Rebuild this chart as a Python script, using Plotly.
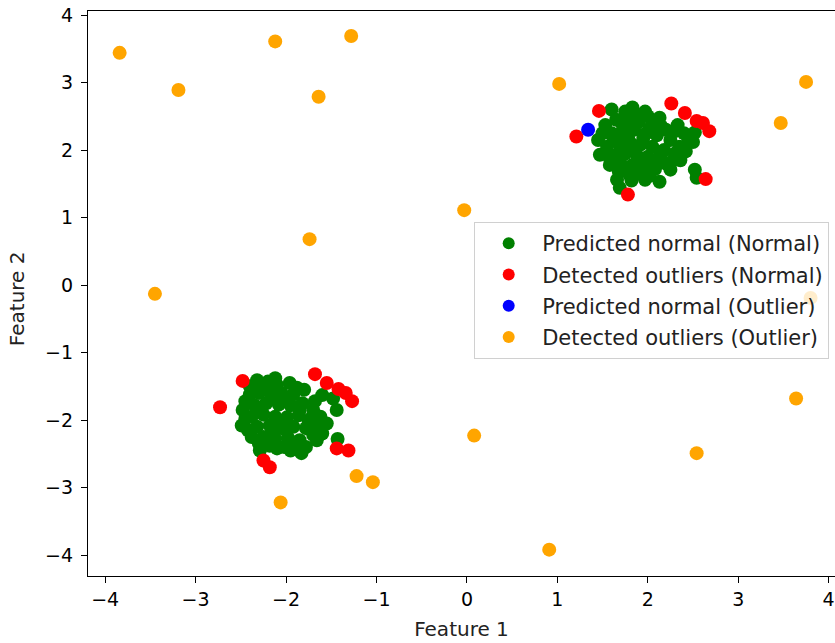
import plotly.graph_objects as go

# Predicted normal (Normal) - green
green_x = [1.60, 1.75, 1.83, 1.97, 2.13, 2.33, 2.52, 2.50, 2.52, 2.54, 2.36, 2.25, 2.13, 1.97, 1.66, 1.69, 1.80, 1.45, 1.47, 1.53, 1.58,
           1.65, 1.78, 1.90, 2.05, 2.20, 1.60, 1.72, 1.85, 1.98, 2.10, 2.25, 2.35, 1.55, 1.68, 1.80, 1.92, 2.05, 2.18, 2.30,
           1.62, 1.75, 1.88, 2.00, 2.12, 1.70, 1.83, 1.95, 2.08, 1.88, 2.02, 1.75, 2.20, 1.95, 1.85, 2.02, 1.70,
           1.72, 1.88, 2.15, 2.40, 1.50, 1.62, 1.78, 2.28, 2.42, 1.58, 1.90, 1.82, 2.05, 2.15, 2.00, 1.68, 2.30, 2.45,
           -2.32, -2.12, -1.96, -2.20, -2.48, -2.49, -2.29, -2.10, -1.83, -1.66, -1.60, -1.48, -1.44, -1.55, -1.43, -2.40, -2.45, -2.38, -1.80, -1.70,
           -2.30, -2.18, -2.05, -1.92, -2.35, -2.22, -2.08, -1.95, -1.82, -2.38, -2.25, -2.12, -1.99, -1.86, -1.73, -2.32, -2.18, -2.05,
           -1.92, -1.78, -1.65, -2.25, -2.12, -1.98, -1.85, -2.02, -1.90, -2.15, -1.70, -2.10,
           -2.40, -2.25, -1.88, -2.45, -2.30, -2.18, -1.95, -1.78, -1.60, -1.68, -1.62, -2.42, -2.15, -2.00, -1.75, -1.85, -2.28, -2.05]
green_y = [2.60, 2.57, 2.63, 2.57, 2.48, 2.37, 2.26, 2.12, 1.71, 1.59, 1.85, 1.71, 1.53, 1.56, 1.56, 1.44, 1.63, 2.15, 1.93, 2.37, 1.78,
           2.45, 2.45, 2.42, 2.40, 2.30, 2.25, 2.28, 2.30, 2.25, 2.22, 2.15, 2.05, 2.05, 2.10, 2.12, 2.08, 2.05, 2.00, 1.95,
           1.92, 1.95, 1.92, 1.90, 1.88, 1.80, 1.78, 1.75, 1.72, 1.65, 1.62, 1.70, 1.80, 2.18, 2.00, 2.32, 2.00,
           2.38, 2.52, 2.35, 2.25, 2.25, 2.15, 2.20, 1.85, 1.98, 1.88, 1.85, 1.55, 1.82, 1.95, 2.50, 1.68, 2.28, 2.15,
           -1.41, -1.38, -1.45, -1.43, -1.85, -2.08, -2.45, -2.42, -2.49, -2.30, -1.63, -1.68, -1.85, -2.05, -2.28, -1.62, -1.72, -2.25, -1.55, -1.85,
           -1.60, -1.58, -1.60, -1.62, -1.78, -1.75, -1.77, -1.78, -1.75, -1.95, -1.92, -1.95, -1.96, -1.93, -1.98, -2.10, -2.08, -2.12,
           -2.10, -2.12, -2.12, -2.25, -2.28, -2.26, -2.30, -2.40, -2.38, -2.18, -2.22, -1.48,
           -1.50, -1.50, -1.52, -1.98, -2.35, -2.38, -2.45, -2.40, -2.20, -1.72, -1.95, -2.15, -1.65, -1.70, -2.05, -1.85, -1.85, -2.02]

# Detected outliers (Normal) - red
red_x = [1.46, 1.21, 2.26, 2.41, 2.54, 2.61, 2.68, 2.64, 1.78,
         -2.48, -2.73, -1.68, -1.55, -1.42, -1.34, -1.27, -1.44, -1.31, -2.25, -2.18]
red_y = [2.58, 2.20, 2.69, 2.55, 2.43, 2.40, 2.28, 1.57, 1.34,
         -1.42, -1.81, -1.32, -1.45, -1.54, -1.60, -1.72, -2.42, -2.45, -2.60, -2.70]

# Predicted normal (Outlier) - blue
blue_x = [1.34]
blue_y = [2.30]

# Detected outliers (Outlier) - orange
orange_x = [-3.84, -3.19, -2.12, -1.28, -1.64, 1.02, 3.75, 3.47, -0.03, -1.74, -3.45, 3.80, 3.64, 2.54, 0.08, -1.22, -1.04, -2.06, 0.91]
orange_y = [3.44, 2.89, 3.61, 3.69, 2.79, 2.98, 3.01, 2.40, 1.11, 0.68, -0.13, -0.19, -1.68, -2.49, -2.23, -2.83, -2.92, -3.22, -3.92]

series = [
    ("Predicted normal (Normal)", green_x, green_y, "green"),
    ("Detected outliers (Normal)", red_x, red_y, "red"),
    ("Predicted normal (Outlier)", blue_x, blue_y, "blue"),
    ("Detected outliers (Outlier)", orange_x, orange_y, "orange"),
]

fig = go.Figure()
for i, (name, xs, ys, col) in enumerate(series):
    fig.add_trace(go.Scatter(x=xs, y=ys, mode="markers", name=name, legendgroup=f"g{i}",
                             marker=dict(color=col, size=14, line=dict(width=0))))

tickfont = dict(family="DejaVu Sans", size=19, color="black")
titlefont = dict(family="DejaVu Sans", size=20, color="#222")
fig.update_layout(
    width=835, height=643,
    margin=dict(l=88, r=0, t=11, b=67),
    plot_bgcolor="white", paper_bgcolor="white",
    font=tickfont,
    showlegend=True,
    legend=dict(x=0.517, y=0.6265, xanchor="left", yanchor="top",
                bgcolor="rgba(255,255,255,0.8)", bordercolor="#d0d0d0", borderwidth=1,
                font=dict(family="DejaVu Sans", size=21, color="#222"),
                traceorder="grouped", tracegroupgap=1, itemsizing="constant", itemwidth=57),
    xaxis=dict(range=[-4.19, 4.07], tickvals=[-4, -3, -2, -1, 0, 1, 2, 3, 4],
               showgrid=False, zeroline=False, showline=True, linecolor="black", linewidth=1.3,
               mirror=True, ticks="outside", ticklen=6, tickcolor="black",
               ticklabeloverflow="allow",
               title=dict(text="Feature 1", standoff=13, font=titlefont), tickfont=tickfont),
    yaxis=dict(range=[-4.31, 4.06], tickvals=[-4, -3, -2, -1, 0, 1, 2, 3, 4],
               showgrid=False, zeroline=False, showline=True, linecolor="black", linewidth=1.3,
               mirror=False, ticks="outside", ticklen=6, tickcolor="black",
               ticklabeloverflow="allow", ticklabelstandoff=4, tickfont=tickfont),
    annotations=[dict(text="Feature 2", textangle=-90, xref="paper", yref="paper",
                      x=-0.095, y=0.49, xanchor="center", yanchor="middle",
                      showarrow=False, font=titlefont)],
)

fig.write_html("out.html")
